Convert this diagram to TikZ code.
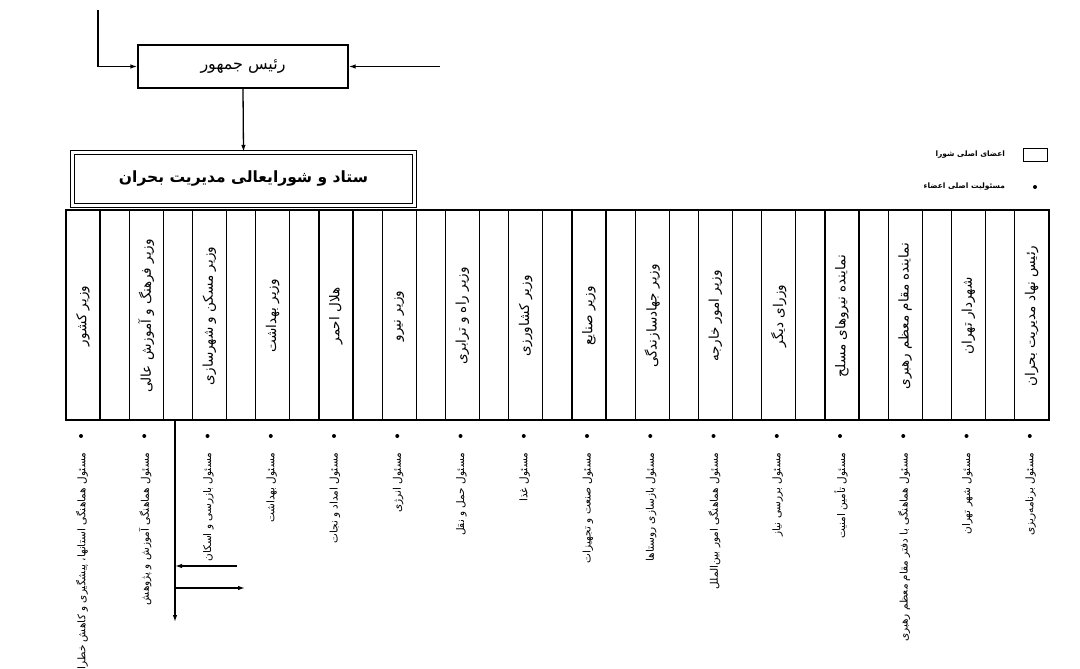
\documentclass[tikz,border=0pt]{standalone}
\usepackage{fontspec}
\usetikzlibrary{arrows.meta}
\newfontfamily\persianfont[Script=Arabic]{DejaVu Sans}
\TeXXeTstate=1
\newcommand{\fa}[1]{{\persianfont\beginR #1\endR}}
\tikzset{
  box/.style={draw, line width=1.3pt, inner sep=0pt},
  colname/.style={rotate=90, font=\fontsize{13.5}{15}\selectfont},
  dutyname/.style={rotate=90, anchor=east, font=\fontsize{10.5}{12}\selectfont},
  legendtext/.style={anchor=east, font=\bfseries\fontsize{7.5}{9}\selectfont},
}
\begin{document}
\begin{tikzpicture}[x=1pt, y=-1pt, line width=1.3pt, >={Latex[length=7pt,width=4.5pt]}]
    \useasboundingbox (0,0) rectangle (1080,669);

    % President and incoming lines
    \node[box, minimum width=210, minimum height=43, font=\fontsize{16}{18}\selectfont] (pres) at (243,66.5) {\fa{رئیس جمهور}};
    \coordinate (feedL) at (98,10);
    \coordinate (feedR) at (440,66.5);
    \draw[->] (feedL) |- (pres.west);
    \draw[->] (feedR) -- (pres.east);

    % Council title box
    \node[box, line width=1.1pt, double, double distance=2.6pt, minimum width=342, minimum height=53, font=\bfseries\fontsize{15.5}{18}\selectfont] (title) at (243.5,179) {\fa{ستاد و شورایعالی مدیریت بحران}};
    \draw[->] (pres.south) -- (title.north);

    % Member columns
    \draw[line width=1.6pt] (66,210) rectangle (1048.75,420); % The frame of the table
    \foreach \i in {1,...,15} {
        \draw ({36.75+63.25*\i},210) -- ++(0,210);
        \draw ({66+63.25*\i},210) -- ++(0,210);
    }
    \foreach \i/\head/\duty in {
        0/{وزیر کشور}/{مسئول هماهنگی استانها، پیشگیری و کاهش خطرات},
        1/{وزیر فرهنگ و آموزش عالی}/{مسئول هماهنگی آموزش و پژوهش},
        2/{وزیر مسکن و شهرسازی}/{مسئول بازرسی و اسکان},
        3/{وزیر بهداشت}/{مسئول بهداشت},
        4/{هلال احمر}/{مسئول امداد و نجات},
        5/{وزیر نیرو}/{مسئول انرژی},
        6/{وزیر راه و ترابری}/{مسئول حمل و نقل},
        7/{وزیر کشاورزی}/{مسئول غذا},
        8/{وزیر صنایع}/{مسئول صنعت و تجهیزات},
        9/{وزیر جهادسازندگی}/{مسئول بازسازی روستاها},
        10/{وزیر امور خارجه}/{مسئول هماهنگی امور بین‌الملل},
        11/{وزرای دیگر}/{مسئول بررسی نیاز},
        12/{نماینده نیروهای مسلح}/{مسئول تأمین امنیت},
        13/{نماینده مقام معظم رهبری}/{مسئول هماهنگی با دفتر مقام معظم رهبری},
        14/{شهردار تهران}/{مسئول شهر تهران},
        15/{رئیس نهاد مدیریت بحران}/{مسئول برنامه‌ریزی}} {
        \node[colname] (head\i) at ({83+63.25*\i},316) {\fa{\head}};
        \fill ({81+63.25*\i},436) circle (2pt); % duty dot
        \node[dutyname] (duty\i) at ({82+63.25*\i},449) {\fa{\duty}};
    }

    % Outgoing lines under the table
    \coordinate (outTop) at (175,420);
    \coordinate (outEnd) at (175,622);
    \coordinate (backIn) at (237,566);
    \coordinate (sideOut) at (245,588);
    \draw[->] (outTop) -- (outEnd);
    \draw[->] (backIn) -- (backIn -| outTop);
    \draw[->] (sideOut -| outTop) -- (sideOut);

    % Legend
    \node[box, minimum width=24, minimum height=13] (legbox) at (1035.5,155) {};
    \node[legendtext] (legmember) at (1009,155) {\fa{اعضای اصلی شورا}};
    \fill (1035,187) circle (2pt); % Dot
    \node[legendtext] (legduty) at (1009,187) {\fa{مسئولیت اصلی اعضاء}};
\end{tikzpicture}
\end{document}
